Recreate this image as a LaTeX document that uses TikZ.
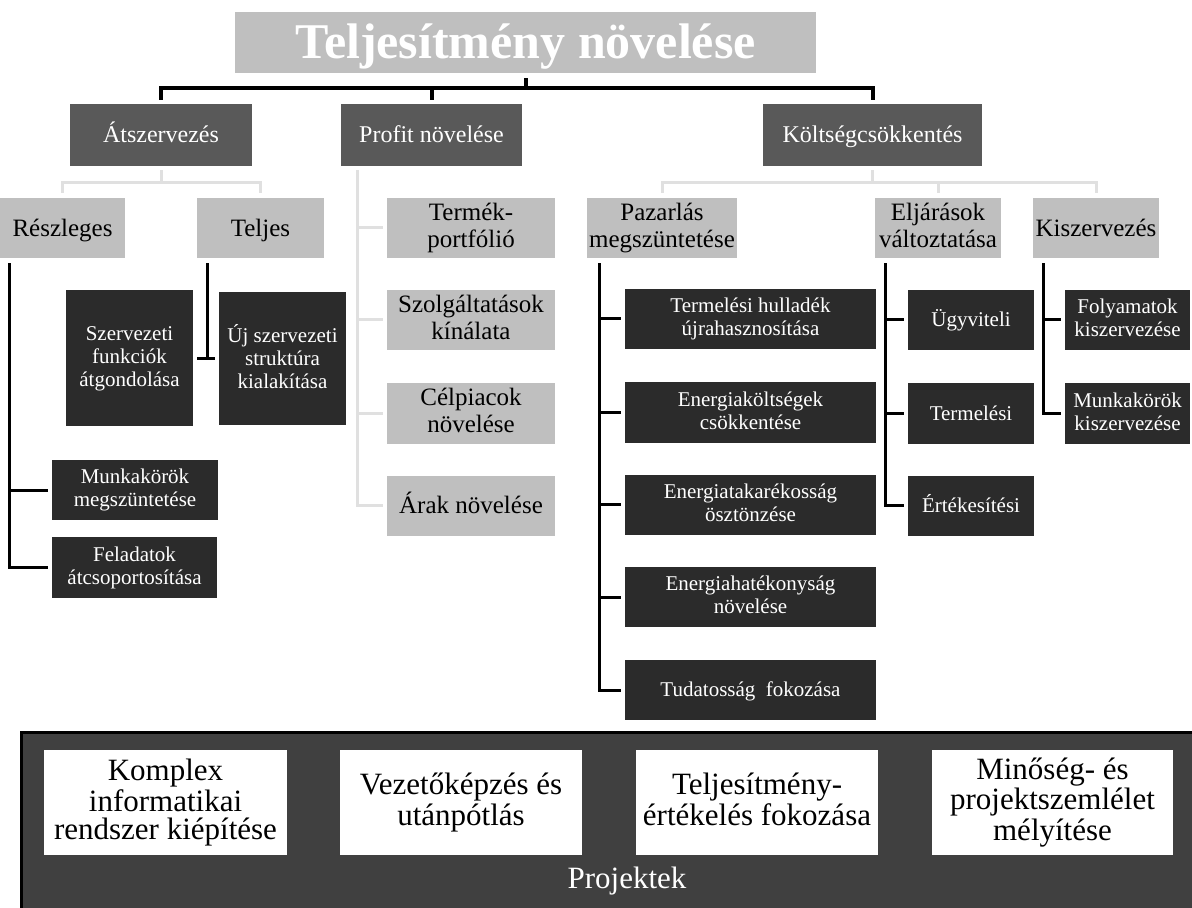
\documentclass[tikz,border=0pt]{standalone}
\usepackage{fontspec}
\setmainfont{Liberation Serif}
\usetikzlibrary{calc}
\definecolor{ctitle}{HTML}{BFBFBF}
\definecolor{cone}{HTML}{595959}
\definecolor{ctwo}{HTML}{BFBFBF}
\definecolor{cthree}{HTML}{2B2B2B}
\definecolor{cbottom}{HTML}{404040}
\definecolor{clight}{HTML}{E0E0E0}
\begin{document}
\begin{tikzpicture}[x=0.5pt,y=-0.5pt,
  box/.style={rectangle, inner sep=0pt, align=center, anchor=center,
    execute at begin node={\vphantom{Ág}}, execute at end node={\vphantom{Ág}}},
  lvlone/.style={box, fill=cone, text=white, font=\fontsize{12}{13}\selectfont, minimum height=31pt},
  lvltwo/.style={box, fill=ctwo, text=black, font=\fontsize{12.5}{13.5}\selectfont, minimum height=30pt},
  lvlthree/.style={box, fill=cthree, text=white, font=\fontsize{10.5}{11.5}\selectfont, minimum height=30pt},
  projbox/.style={box, fill=white, text=black, font=\fontsize{15.5}{14}\selectfont, minimum height=52.5pt},
  topline/.style={line width=2pt, black},
  blk/.style={line width=1.5pt, black},
  lgt/.style={line width=1.5pt, clight}]
\useasboundingbox (0,0) rectangle (1192,908);
\clip (0,0) rectangle (1192,908);
\fill[white] (0,0) rectangle (1192,908);

% title
\node[box, fill=ctitle, text=white, font=\fontsize{25}{28}\selectfont\bfseries,
      minimum width=290.5pt, minimum height=30.5pt] (title) at (525.5,42.5) {Teljesítmény növelése};

% level 1
\node[lvlone, minimum width=91pt] (atsz) at (161,135) {Átszervezés};
\node[lvlone, minimum width=90.5pt] (profit) at (431.5,135) {Profit növelése};
\node[lvlone, minimum width=109.5pt] (kolts) at (872.5,135) {Költségcsökkentés};

% level 2
\node[lvltwo, minimum width=62.5pt] (resz) at (62.5,228) {Részleges};
\node[lvltwo, minimum width=63.5pt] (teljes) at (260.5,228) {Teljes};
\node[lvltwo, minimum width=84pt] (termek) at (471,228) {Termék-\\portfólió};
\node[lvltwo, minimum width=84pt] (szolg) at (471,320) {Szolgáltatások\\kínálata};
\node[lvltwo, minimum width=84pt] (celp) at (471,413.5) {Célpiacok\\növelése};
\node[lvltwo, minimum width=84pt] (arak) at (471,505.5) {Árak növelése};
\node[lvltwo, minimum width=75pt] (pazar) at (662,228) {Pazarlás\\megszüntetése};
\node[lvltwo, minimum width=63pt] (eljar) at (938,228) {Eljárások\\változtatása};
\node[lvltwo, minimum width=63pt] (kisz) at (1096,228) {Kiszervezés};

% level 3
\node[lvlthree, minimum width=63.5pt, minimum height=68pt] (szerv) at (129.5,358.5) {Szervezeti\\funkciók\\átgondolása};
\node[lvlthree, minimum width=63.5pt, minimum height=66.5pt] (uj) at (282.5,358.5) {Új szervezeti\\struktúra\\kialakítása};
\node[lvlthree, minimum width=83pt] (munka) at (135,490) {Munkakörök\\megszüntetése};
\node[lvlthree, minimum width=82.5pt, minimum height=30.5pt] (felad) at (134.5,567.5) {Feladatok\\átcsoportosítása};

\node[lvlthree, minimum width=125.5pt] (th) at (750.5,319) {Termelési hulladék\\újrahasznosítása};
\node[lvlthree, minimum width=125.5pt] (ek) at (750.5,412.5) {Energiaköltségek\\csökkentése};
\node[lvlthree, minimum width=125.5pt] (et) at (750.5,504.5) {Energiatakarékosság\\ösztönzése};
\node[lvlthree, minimum width=125.5pt] (eh) at (750.5,597) {Energiahatékonyság\\növelése};
\node[lvlthree, minimum width=125.5pt] (tf) at (750.5,690) {Tudatosság\ \ fokozása};

\node[lvlthree, minimum width=63pt] (ugy) at (971,320) {Ügyviteli};
\node[lvlthree, minimum width=63pt] (term) at (971,413.5) {Termelési};
\node[lvlthree, minimum width=63pt] (ert) at (971,505.5) {Értékesítési};

\node[lvlthree, minimum width=62.5pt] (foly) at (1127.5,320) {Folyamatok\\kiszervezése};
\node[lvlthree, minimum width=62.5pt] (munkb) at (1127.5,413.5) {Munkakörök\\kiszervezése};

% top connectors
\coordinate (tj) at ($(title.south)+(0,15)$);
\draw[topline] ($(title.south)+(0,5)$) -- (tj);
\draw[topline] ($(atsz.north)+(0,-4)$) -- (atsz.north |- tj) -- (kolts.north |- tj) -- ($(kolts.north)+(0,-4)$);
\draw[topline] ($(profit.north)+(0,-4)$) -- (profit.north |- tj);

% light connectors: Átszervezés
\coordinate (aa) at ($(atsz.south)+(0,4)$);
\coordinate (ab) at ($(atsz.south)+(0,16)$);
\draw[lgt] (aa) -- (ab);
\draw[lgt] ($(resz.north)+(0,-5)$) |- (ab) -| ($(teljes.north)+(0,-5)$);

% light connectors: Költségcsökkentés
\coordinate (ka) at ($(kolts.south)+(0,4)$);
\coordinate (kb) at ($(kolts.south)+(0,16)$);
\draw[lgt] (ka) -- (kb);
\draw[lgt] ($(pazar.north)+(0,-5)$) |- (kb) -| ($(kisz.north)+(0,-5)$);
\draw[lgt] ($(eljar.north)+(0,-5)$) -- (eljar.north |- kb);

% light connectors: Profit
\coordinate (pa) at ($(profit.south west)+(17,4)$);
\draw[lgt] (pa) |- ($(arak.west)+(-4,0)$);
\foreach \n in {termek,szolg,celp}
  \draw[lgt] (pa |- \n.west) -- ($(\n.west)+(-4,0)$);

% black connectors: Részleges
\coordinate (ra) at ($(resz.south west)+(10,5)$);
\draw[blk] (ra) |- ($(felad.west)+(-4,0)$);
\draw[blk] (ra |- munka.west) -- ($(munka.west)+(-4,0)$);

% black connectors: Teljes
\coordinate (ta) at ($(teljes.south west)+(11,5)$);
\draw[blk] (ta) -- (ta |- szerv.east);
\draw[blk] ($(szerv.east)+(4,0)$) -- ($(uj.west)+(-4,0)$);

% black connectors: Pazarlás
\coordinate (za) at ($(pazar.south west)+(13,5)$);
\draw[blk] (za) |- ($(tf.west)+(-4,0)$);
\foreach \n in {th,ek,et,eh}
  \draw[blk] (za |- \n.west) -- ($(\n.west)+(-4,0)$);

% black connectors: Eljárások
\coordinate (ea) at ($(eljar.south west)+(11,5)$);
\draw[blk] (ea) |- ($(ert.west)+(-4,0)$);
\foreach \n in {ugy,term}
  \draw[blk] (ea |- \n.west) -- ($(\n.west)+(-4,0)$);

% black connectors: Kiszervezés
\coordinate (ia) at ($(kisz.south west)+(11,5)$);
\draw[blk] (ia) |- ($(munkb.west)+(-4,0)$);
\draw[blk] (ia |- foly.west) -- ($(foly.west)+(-4,0)$);

% bottom projects
\draw[line width=1.5pt, fill=cbottom] (21,732) rectangle (1215,930);
\node[projbox, minimum width=121.5pt] (pa1) at (165.5,802.5) {Komplex\\informatikai\\rendszer kiépítése};
\node[projbox, minimum width=121pt] (pa2) at (461,802.5) {Vezetőképzés és\\utánpótlás};
\node[projbox, minimum width=121pt] (pa3) at (757,802.5) {Teljesítmény-\\értékelés fokozása};
\node[projbox, minimum width=120.5pt] (pa4) at (1052.5,802.5) {Minőség- és\\projektszemlélet\\mélyítése};
\node[inner sep=0pt, anchor=base, text=white, font=\fontsize{15.5}{17}\selectfont] (proj) at (627,888) {Projektek};
\end{tikzpicture}
\end{document}
